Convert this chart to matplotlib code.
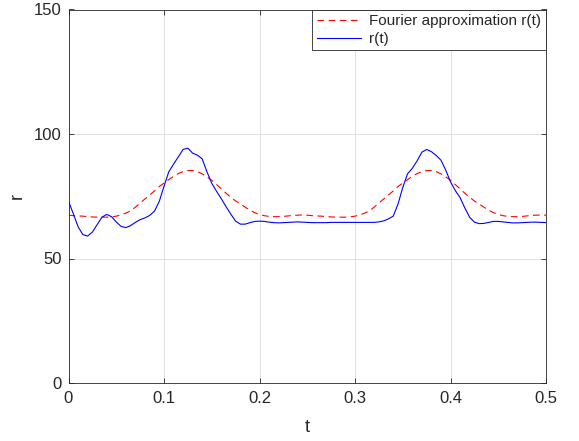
import numpy as np
import matplotlib
matplotlib.use("Agg")
import matplotlib.pyplot as plt

# Sample times (s)
t = np.round(np.arange(0, 0.5001, 0.005), 4)

# Measured radius r(t)
r_measured = [
    73.0, 68.0, 62.8, 59.6, 59.0, 60.6, 63.6, 66.6, 67.7, 66.8,
    64.7, 62.9, 62.4, 63.2, 64.5, 65.6, 66.3, 67.3, 69.0, 72.9,
    79.0, 84.8, 87.9, 90.8, 93.8, 94.3, 92.3, 91.5, 90.0, 84.8,
    80.2, 77.0, 74.0, 70.8, 67.8, 65.0, 63.8, 63.8, 64.4, 64.9,
    65.0, 64.9, 64.6, 64.4, 64.3, 64.4, 64.5, 64.6, 64.7, 64.6,
    64.5, 64.4, 64.4, 64.4, 64.4, 64.5, 64.5, 64.5, 64.5, 64.5,
    64.5, 64.5, 64.5, 64.5, 64.5, 64.7, 65.1, 65.9, 67.0, 71.8,
    78.5, 84.0, 86.2, 89.2, 92.7, 93.8, 92.9, 91.4, 89.5, 85.5,
    80.8, 77.3, 74.5, 70.3, 66.6, 64.6, 64.0, 64.1, 64.5, 64.9,
    64.9, 64.7, 64.5, 64.3, 64.3, 64.4, 64.5, 64.6, 64.6, 64.5,
    64.4,
]

# Fourier series approximation of r(t)
r_fourier = [
    67.4, 67.2, 67.1, 67.0, 66.8, 66.7, 66.6, 66.6, 66.6, 66.7,
    67.0, 67.5, 68.2, 69.1, 70.6, 72.3, 73.9, 75.5, 77.1, 78.9,
    80.3, 81.7, 83.0, 84.1, 84.9, 85.3, 85.3, 84.9, 84.0, 82.8,
    81.4, 79.7, 78.0, 76.2, 74.6, 73.1, 71.9, 70.6, 69.4, 68.4,
    67.7, 67.2, 66.9, 66.8, 66.8, 66.9, 67.1, 67.3, 67.4, 67.5,
    67.4, 67.2, 67.1, 67.0, 66.8, 66.7, 66.6, 66.6, 66.6, 66.7,
    67.0, 67.5, 68.2, 69.1, 70.6, 72.3, 73.9, 75.5, 77.1, 78.9,
    80.3, 81.7, 83.0, 84.1, 84.9, 85.3, 85.3, 84.9, 84.0, 82.8,
    81.4, 79.7, 78.0, 76.2, 74.6, 73.1, 71.9, 70.6, 69.4, 68.4,
    67.7, 67.2, 66.9, 66.8, 66.8, 66.9, 67.1, 67.3, 67.4, 67.5,
    67.4,
]

x_ticks = [0, 0.1, 0.2, 0.3, 0.4, 0.5]
x_ticklabels = ["0", "0.1", "0.2", "0.3", "0.4", "0.5"]
y_ticks = [0, 50, 100, 150]
y_ticklabels = ["0", "50", "100", "150"]

plt.rcParams["font.family"] = ["Liberation Sans", "DejaVu Sans"]
ink = "#262626"

W, H = 579, 441
fig = plt.figure(figsize=(W / 100, H / 100), dpi=100)
ax = fig.add_axes([68.5 / W, (H - 383) / H, (546 - 68.5) / W, (383 - 9.5) / H])

ax.plot(t, r_fourier, color=(1, 0, 0), linestyle=(0, (6, 4)), linewidth=0.8,
        label="Fourier approximation r(t)")
ax.plot(t, r_measured, color=(0, 0, 1), linewidth=0.8, label="r(t)",
        solid_joinstyle="round")

ax.set_xlim(0, 0.5)
ax.set_ylim(0, 150)
ax.set_xticks(x_ticks)
ax.set_xticklabels(x_ticklabels)
ax.set_yticks(y_ticks)
ax.set_yticklabels(y_ticklabels)

ax.grid(True, color="#dcdcdc", linewidth=0.6)
ax.set_axisbelow(True)
ax.tick_params(direction="in", length=3.5, width=0.6, colors=ink,
               labelsize=12, top=True, right=True)
ax.tick_params(axis="x", pad=6)
ax.tick_params(axis="y", pad=5)
for s in ax.spines.values():
    s.set_color(ink)
    s.set_linewidth(0.6)

ax.set_xlabel("t", fontsize=13, color=ink, labelpad=9)
ax.set_ylabel("r", fontsize=13, color=ink, labelpad=6)

leg = ax.legend(loc="upper right", borderaxespad=0, fancybox=False,
                fontsize=11, handlelength=2.9, handletextpad=0.55,
                labelspacing=0.25, borderpad=0.3, framealpha=1)
leg.get_frame().set_edgecolor(ink)
leg.get_frame().set_linewidth(0.6)
for txt in leg.get_texts():
    txt.set_color(ink)

fig.savefig("out.png", dpi=100)
